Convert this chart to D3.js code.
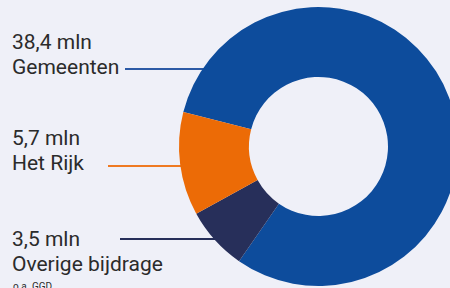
<!DOCTYPE html>
<html>
<head>
<meta charset="utf-8">
<script src="https://cdn.jsdelivr.net/npm/d3@7"></script>
<style>
  body { margin: 0; background: #eff0f8; }
  svg { display: block; }
  text { font-family: Roboto, "Open Sans", sans-serif; fill: #2b2b2b; }
</style>
</head>
<body>
<script>
var width = 450,
    height = 288;

// data
var categories = ["Gemeenten", "Overige bijdrage", "Het Rijk"];
var values = [38.4, 3.5, 5.7];
var colors = ["#0d4c9c", "#272f5a", "#ec6b06"];
var lineColors = ["#2c5aa6", "#272f5a", "#ef7a22"];
var subNote = "o.a. GGD";

// label layout (baseline of first line, line y, line start x)
var labelPos = {
  "Gemeenten":        { y: 49,  ly: 69,  lx: 125 },
  "Het Rijk":         { y: 145, ly: 166, lx: 108 },
  "Overige bijdrage": { y: 246, ly: 239, lx: 120 }
};

var nl = d3.formatLocale({ decimal: ",", thousands: ".", grouping: [3], currency: ["€", ""] });
var fmt = nl.format(".1f");

var svg = d3.select("body").append("svg")
  .attr("width", width).attr("height", height);

var cx = 318.5, cy = 146.5, R = 139.5, r = 69.5;

var pie = d3.pie().sort(null)
  .startAngle(-75.7 * Math.PI / 180)
  .endAngle((360 - 75.7) * Math.PI / 180);

var arc = d3.arc().innerRadius(r).outerRadius(R);

var arcs = pie(values);

// leader lines (drawn first, donut covers the ends)
categories.forEach(function(c, i) {
  var p = labelPos[c];
  var xEdge = cx - Math.sqrt(R * R - (p.ly - cy) * (p.ly - cy)) + 8;
  svg.append("line")
    .attr("x1", p.lx).attr("x2", xEdge)
    .attr("y1", p.ly).attr("y2", p.ly)
    .style("stroke", lineColors[i])
    .style("stroke-width", 2);
});

svg.append("g").attr("transform", "translate(" + cx + "," + cy + ")")
  .selectAll("path").data(arcs).enter().append("path")
  .attr("d", arc)
  .style("fill", function(d, i) { return colors[i]; });

// labels
categories.forEach(function(c, i) {
  var p = labelPos[c];
  var t = svg.append("text").attr("x", 12).attr("y", p.y).style("font-size", "21px");
  t.append("tspan").attr("x", 12).text(fmt(values[i]) + " mln");
  t.append("tspan").attr("x", 12).attr("dy", 25).text(c);
  if (c === "Overige bijdrage") {
    svg.append("text").attr("x", 13).attr("y", 290)
      .style("font-size", "10px").text(subNote);
  }
});
</script>
</body>
</html>
